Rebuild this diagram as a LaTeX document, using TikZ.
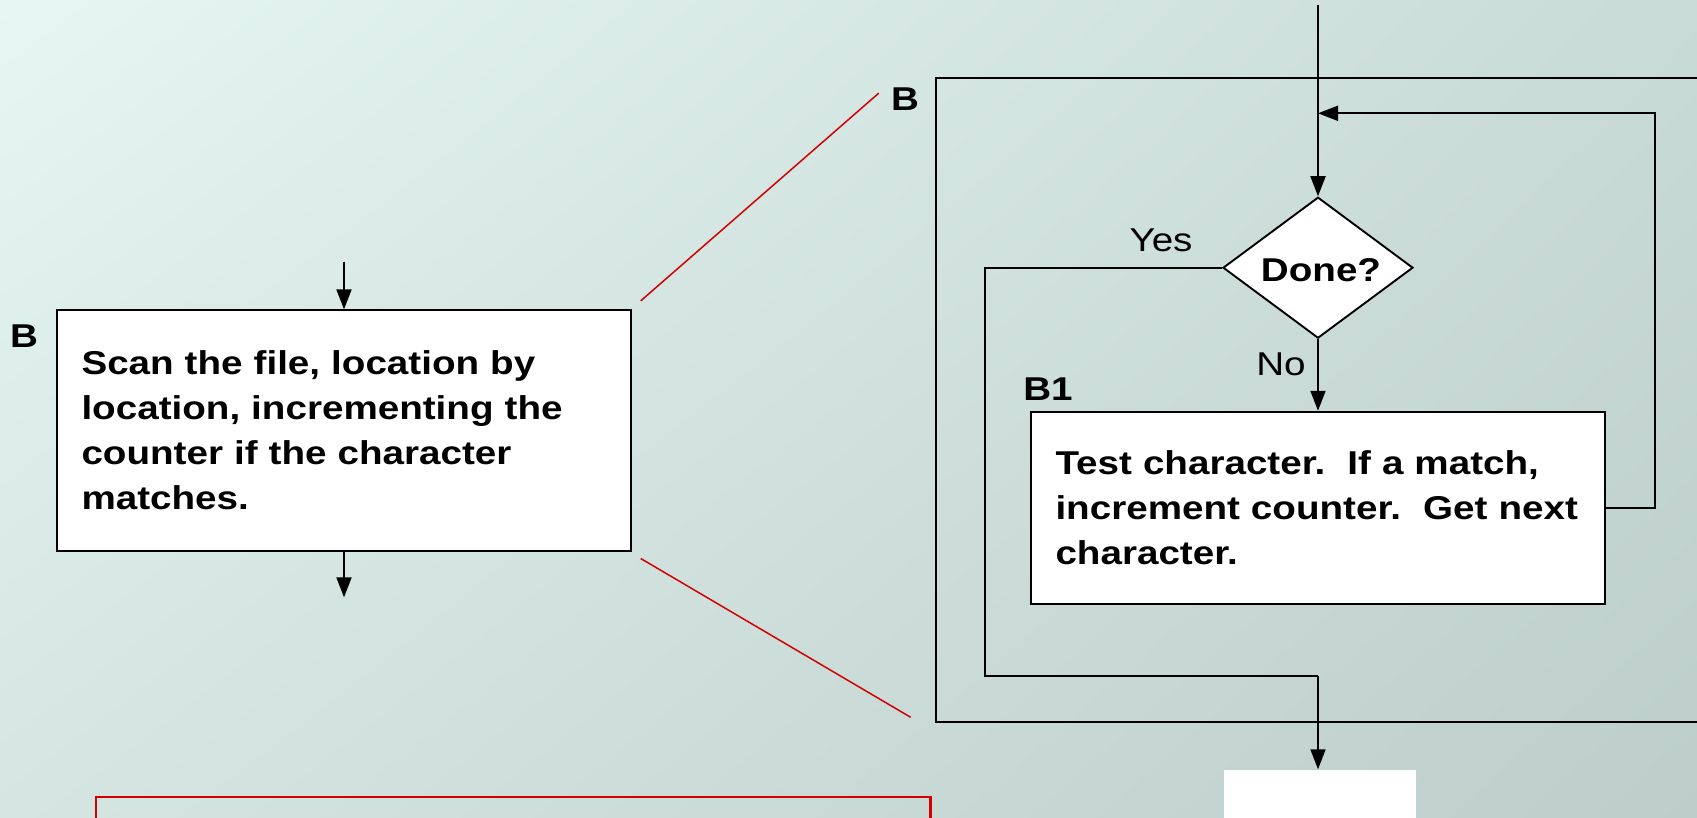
\documentclass[tikz,border=0pt]{standalone}
\usepackage{fontspec}
\setmainfont{Liberation Sans}[FakeStretch=1.17]
\usetikzlibrary{shapes.geometric,arrows.meta,shadings}
\definecolor{bgUL}{RGB}{229,246,243}
\definecolor{bgUR}{RGB}{201,219,215}
\definecolor{bgLL}{RGB}{213,229,225}
\definecolor{bgLR}{RGB}{189,206,202}
\definecolor{zoomred}{RGB}{210,0,0}
\begin{document}
\frenchspacing
\begin{tikzpicture}[x=1pt,y=-1pt,
  txt/.style={font=\fontsize{33}{45}\selectfont, inner sep=0pt},
  bold/.style={txt, font=\fontsize{33}{45}\selectfont\bfseries},
  box/.style={draw=black, line width=1.9pt, fill=white, rectangle,
    inner xsep=24.5pt, inner ysep=0pt, text width=525pt, align=left,
    font=\fontsize{33}{45}\selectfont\bfseries},
  decision/.style={diamond, draw=black, line width=1.9pt, fill=white,
    minimum width=190pt, minimum height=141pt, inner sep=0pt},
  flow/.style={line width=1.9pt, -{Triangle[length=20pt,width=15pt]}},
  wire/.style={line width=1.9pt},
  zoomline/.style={draw=zoomred, line width=1.5pt}
]
\useasboundingbox (0,0) rectangle (1697,818);
\clip (0,0) rectangle (1697,818);
\shade[upper left=bgUL, upper right=bgUR, lower left=bgLL, lower right=bgLR]
  (0,0) rectangle (1697,818);

% ---- overview block B ----
\node[box, minimum height=240.4pt] (scan) at (344,430.5)
  {\mbox{Scan the file, location by}\\\mbox{location, incrementing the}\\
   \mbox{counter if the character}\\\mbox{matches.}};
\node[bold] (labB) at (24,336) {B};
\coordinate (scanin) at (344,261.7);
\coordinate (scanout) at (344,597.3);
\draw[flow] (scanin) -- (scan.north);
\draw[flow] (scan.south) -- (scanout);

% ---- expansion lines ----
\coordinate (zA1) at (640.7,300.9);
\coordinate (zA2) at (878.8,93.1);
\coordinate (zB1) at (640.7,558.5);
\coordinate (zB2) at (910.7,717.3);
\draw[zoomline] (zA1) -- (zA2);
\draw[zoomline] (zB1) -- (zB2);

% ---- detailed block B ----
\draw[wire] (935.8,77.7) rectangle (1720,722.3);
\node[bold] (labBB) at (905,99) {B};

\coordinate (entry) at (1318,5);
\node[decision] (dia) at (1318,267.7) {};
\node[bold] (done) at (1321,270) {Done?};
\node[box, minimum height=192.6pt] (test) at (1318,508)
  {\mbox{Test character.\ \ If a match,}\\\mbox{increment counter.\ \ Get next}\\
   \mbox{character.}};
\node[bold] (labB1) at (1048,389) {B1};
\node[txt] (yes) at (1161,240) {Yes};
\node[txt] (no) at (1281,364) {No};

\node[fill=white, minimum width=192pt, minimum height=70pt, inner sep=0pt,
  anchor=north] (next) at (1320,769.3) {};

\coordinate (loopR) at (1654.8,113.3);
\coordinate (loopJ) at (1318,113.3);
\coordinate (yesL) at (984.7,267.7);
\coordinate (yesB) at (1318,675.7);

\draw[flow] (entry) -- (dia.north);
\draw[flow] (test.east) -| (loopR) -- (loopJ);
\draw[flow] (dia.south) -- (test.north);
\draw[wire] (dia.west) -- (yesL) |- (yesB);
\draw[flow] (yesB) -- (next.north -| yesB);

% ---- note frame ----
\draw[draw=zoomred, line width=2.2pt] (95.7,797.3) rectangle (930.5,840);
\end{tikzpicture}
\end{document}
